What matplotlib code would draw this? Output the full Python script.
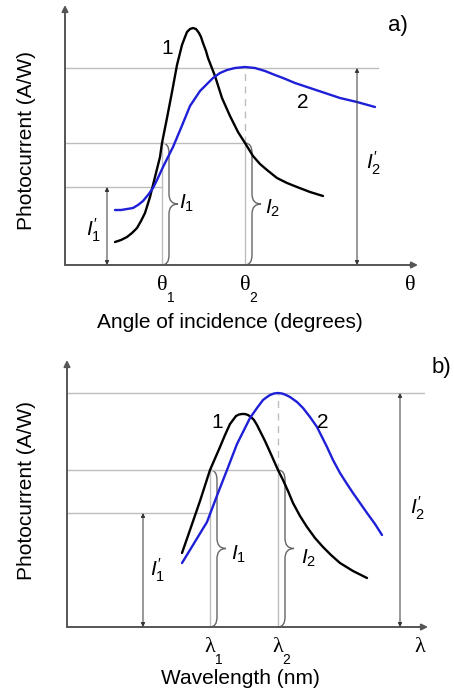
import matplotlib
matplotlib.use("Agg")
import matplotlib.pyplot as plt
from matplotlib.path import Path
from matplotlib.patches import PathPatch

plt.rcParams['font.family'] = ['Liberation Sans', 'DejaVu Sans']
plt.rcParams['mathtext.fontset'] = 'custom'
plt.rcParams['mathtext.rm'] = 'Liberation Sans'
plt.rcParams['mathtext.it'] = 'Liberation Sans:italic'

# ---- panel a: photocurrent vs angle of incidence (arbitrary units) ----
ang_c1_x = [50, 56, 62, 67, 72, 76, 80, 85, 90, 95, 97, 102, 107, 112, 117, 120, 122, 125,
            128, 131, 134, 136, 138, 141, 143, 150, 157, 165, 173, 180, 188, 195, 202, 212,
            222, 232, 245, 258]
ang_c1_y = [23, 25, 28, 32, 37, 44, 52, 68, 88, 108, 122, 147, 173, 200, 220, 228, 233, 236,
            237, 236, 232, 228, 222, 214, 207, 189, 167, 149, 133, 122, 109, 101, 95, 87,
            82, 78, 73, 69]
ang_c2_x = [50, 56, 62, 68, 73, 78, 83, 88, 92, 98, 103, 108, 116, 125, 135, 142, 148, 155,
            162, 170, 180, 190, 200, 210, 218, 230, 245, 260, 275, 292, 310]
ang_c2_y = [55, 55, 56, 57, 60, 64, 70, 77, 85, 98, 108, 118, 137, 159, 174, 181, 187, 192,
            195, 197, 198, 197, 194, 190, 187, 182, 177, 172, 167, 163, 158]
ang_theta = [97, 180]          # theta_1, theta_2
ang_levels = [78, 122, 197]    # I1', I1 = I2, I2'
ang_xmax, ang_ymax = 350, 257

# ---- panel b: photocurrent vs wavelength (arbitrary units) ----
wl_c1_x = [115, 123, 133, 143, 153, 158, 163, 166, 169, 172, 175, 178, 181, 184, 187, 190,
           193, 198, 203, 207, 211, 216, 221, 226, 233, 240, 248, 256, 264, 273, 286, 300]
wl_c1_y = [74, 97, 126, 157, 180, 192, 203, 207, 211, 212.5, 213, 213, 212, 210, 207, 202,
           196, 186, 175, 166, 157, 147, 136, 124, 111, 100, 89, 80, 72, 64, 56, 49]
wl_c2_x = [115, 126, 140, 151, 160, 170, 177, 183, 190, 196, 200, 203, 207, 211, 215, 219,
           223, 230, 236, 243, 250, 255, 260, 266, 273, 280, 286, 293, 300, 308, 315]
wl_c2_y = [64, 82, 105, 134, 157, 183, 197, 209, 219, 227, 230, 232, 233.5, 234, 233.5,
           232, 230, 225, 219, 210, 200, 190, 180, 167, 154, 143, 134, 124, 114, 103, 92]
wl_lambda = [143, 211]
wl_levels = [114, 157, 234]
wl_xmax, wl_ymax = 358, 264

BLUE = '#1f1fd8'
GRID = '#bdbdbd'
AXC = '#555555'


def brace(ax, x0, y0, y1, w=7, t=9, r=10):
    ym = (y0 + y1) / 2
    verts = [(x0, y0), (x0 + w, y0), (x0 + w, y0 + r), (x0 + w, ym - r),
             (x0 + w, ym), (x0 + w + t, ym), (x0 + w, ym), (x0 + w, ym + r),
             (x0 + w, y1 - r), (x0 + w, y1), (x0, y1)]
    codes = [Path.MOVETO, Path.CURVE3, Path.CURVE3, Path.LINETO, Path.CURVE3, Path.CURVE3,
             Path.CURVE3, Path.CURVE3, Path.LINETO, Path.CURVE3, Path.CURVE3]
    ax.add_patch(PathPatch(Path(verts, codes), fc='none', ec='#666666', lw=1.0, clip_on=False))


def panel(ax, c1x, c1y, c2x, c2y, marks, levels, xmax, ymax, sym, xlabel, tag, pos):
    ax.set_xlim(0, xmax)
    ax.set_ylim(0, ymax)
    for s in ax.spines.values():
        s.set_visible(False)
    ax.set_xticks([])
    ax.set_yticks([])
    ax.patch.set_alpha(0)

    low, mid, top = levels
    m1, m2 = marks
    # reference lines
    ax.plot([0, pos['top_end']], [top, top], color=GRID, lw=1)
    ax.plot([0, m2], [mid, mid], color=GRID, lw=1)
    ax.plot([0, m1], [low, low], color=GRID, lw=1)
    ax.plot([m1, m1], [0, mid], color=GRID, lw=1)
    ax.plot([m2, m2], [0, mid], color=GRID, lw=1)
    ax.plot([m2, m2], [mid, top], color=GRID, lw=1, ls=(0, (5, 4)))

    # axes with arrows
    ax.annotate('', xy=(xmax + 3, 0), xytext=(0, 0), annotation_clip=False,
                arrowprops=dict(arrowstyle='-|>', color=AXC, lw=1.4, mutation_scale=9,
                                shrinkA=0, shrinkB=0))
    ax.annotate('', xy=(0, ymax + 3), xytext=(0, 0), annotation_clip=False,
                arrowprops=dict(arrowstyle='-|>', color=AXC, lw=1.4, mutation_scale=9,
                                shrinkA=0, shrinkB=0))

    # I' arrows
    for xa, ya in [(pos['i1p_x'], low), (pos['i2p_x'], top)]:
        ax.annotate('', xy=(xa, ya), xytext=(xa, 0), annotation_clip=False,
                    arrowprops=dict(arrowstyle='<|-|>', color='#333333', lw=0.7,
                                    mutation_scale=6, shrinkA=0, shrinkB=0))

    brace(ax, m1, 0, mid)
    brace(ax, m2, 0, mid)

    ax.plot(c1x, c1y, color='black', lw=1.7, solid_capstyle='round', clip_on=False)
    ax.plot(c2x, c2y, color=BLUE, lw=1.7, solid_capstyle='round', clip_on=False)

    fs = 15
    ax.text(*pos['lab1'], '1', fontsize=fs, ha='center', va='center')
    ax.text(*pos['lab2'], '2', fontsize=fs, ha='center', va='center')
    ax.text(*pos['tag'], tag, fontsize=16, ha='center', va='center', clip_on=False)
    ax.text(*pos['I1'], r"$I_1$", fontsize=fs, ha='center', va='center')
    ax.text(*pos['I2'], r"$I_2$", fontsize=fs, ha='center', va='center')
    ax.text(*pos['I1p'], r"$I_1'$", fontsize=fs, ha='center', va='center')
    ax.text(*pos['I2p'], r"$I_2'$", fontsize=fs, ha='center', va='center')

    ty = pos['tick_y']
    for xm, sub in [(m1, '1'), (m2, '2')]:
        ax.text(xm, ty, sym, fontsize=16, family='Liberation Serif', ha='center', va='center')
        ax.annotate(sub, xy=(xm, ty), xytext=(6, -9), textcoords='offset points',
                    fontsize=10, ha='center', va='center', annotation_clip=False)
    ax.text(pos['sym_x'], ty, sym, fontsize=16, family='Liberation Serif', ha='center', va='center')

    ax.text(*pos['xlab'], xlabel, fontsize=fs, ha='center', va='center', transform=ax.transAxes)
    ax.text(*pos['ylab'], 'Photocurrent (A/W)', fontsize=fs, ha='center', va='center',
            rotation=90, transform=ax.transAxes)


W, H = 454, 692
fig = plt.figure(figsize=(W / 100, H / 100), dpi=100)

axA = fig.add_axes([65 / W, (H - 265) / H, 350 / W, 257 / H])
panel(axA, ang_c1_x, ang_c1_y, ang_c2_x, ang_c2_y, ang_theta, ang_levels, ang_xmax, ang_ymax,
      'θ', 'Angle of incidence (degrees)', 'a)',
      dict(top_end=313, i1p_x=42, i2p_x=292, lab1=(102, 217), lab2=(238, 163),
           tag=(333, 240), I1=(122, 62), I2=(208, 57), I1p=(29, 35), I2p=(309, 102),
           tick_y=-20, sym_x=345, xlab=(165 / 350, -57 / 257), ylab=(-38 / 350, 124 / 257)))

axB = fig.add_axes([67 / W, (H - 627) / H, 358 / W, 264 / H])
panel(axB, wl_c1_x, wl_c1_y, wl_c2_x, wl_c2_y, wl_lambda, wl_levels, wl_xmax, wl_ymax,
      'λ', 'Wavelength (nm)', 'b)',
      dict(top_end=358, i1p_x=76, i2p_x=333, lab1=(150, 205), lab2=(256, 205),
           tag=(374, 260), I1=(172, 73), I2=(242, 69), I1p=(91, 57), I2p=(351, 119),
           tick_y=-21, sym_x=353, xlab=(173 / 358, -51 / 264), ylab=(-40 / 358, 137 / 264)))

fig.savefig('out.png', dpi=100)
